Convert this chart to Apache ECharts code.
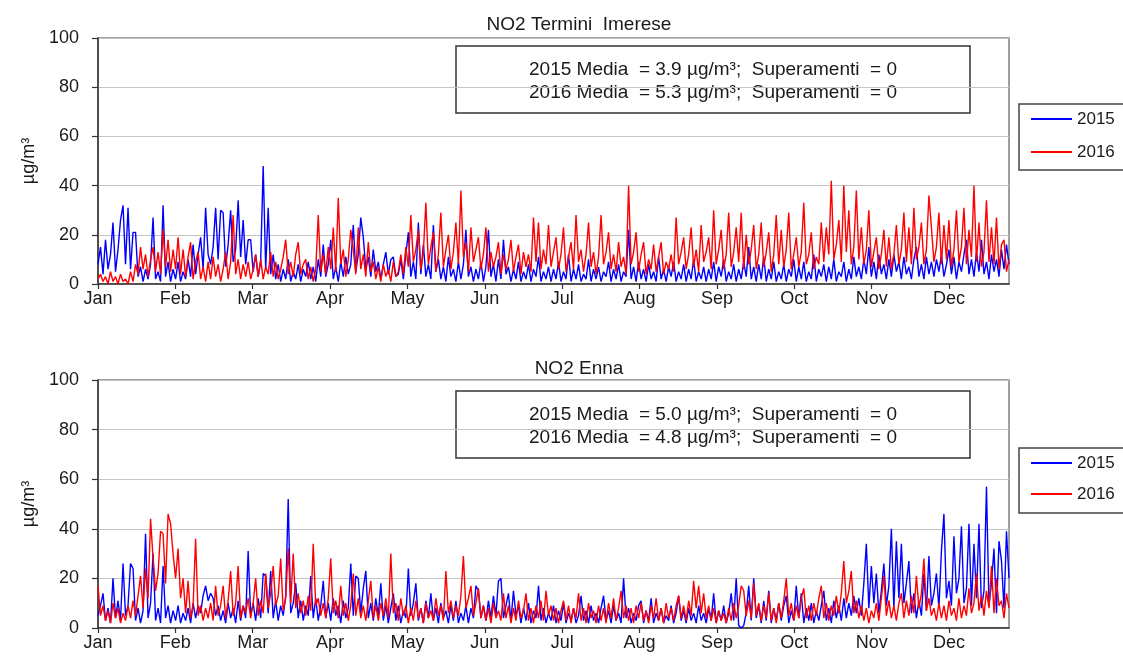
<!DOCTYPE html>
<html>
<head>
<meta charset="utf-8">
<script src="https://cdn.jsdelivr.net/npm/echarts@6/dist/echarts.min.js"></script>
<style>
html,body{margin:0;padding:0;background:#fff;}
#chart{width:1123px;height:663px;}
</style>
</head>
<body>
<div id="chart"></div>
<script>
// ---- data (daily readings, 365 per series) ----
const months = ['Jan','Feb','Mar','Apr','May','Jun','Jul','Aug','Sep','Oct','Nov','Dec'];
const yTicks = [0, 20, 40, 60, 80, 100];
const seriesNames = ['2015', '2016'];
const titles = ['NO2 Termini  Imerese', 'NO2 Enna'];
const notesTermini = ['2015 Media  = 3.9 µg/m³;  Superamenti  = 0', '2016 Media  = 5.3 µg/m³;  Superamenti  = 0'];
const notesEnna = ['2015 Media  = 5.0 µg/m³;  Superamenti  = 0', '2016 Media  = 4.8 µg/m³;  Superamenti  = 0'];
const unitLabel = 'µg/m³';

const termini2015 = [
 8,15,4,18,6,12,25,5,14,26,32,8,31,6,21,21,3,7,1,6,2,8,27,2,5,1,32,3,9,1,6,
 2,9,1,5,2,10,3,16,4,12,19,6,31,12,8,15,31,10,30,29,7,16,30,9,14,34,11,26,
 8,18,18,5,12,3,9,48,6,31,4,12,2,8,1,6,2,10,1,5,2,8,1,6,3,9,2,7,1,10,3,
 16,3,8,18,2,7,1,9,3,11,4,8,24,5,12,27,19,6,11,3,14,5,9,2,8,13,4,10,11,3,
 4,10,2,12,21,3,9,2,25,4,16,3,8,2,24,5,10,2,7,1,11,3,6,1,9,2,8,22,3,7,1,
 6,2,9,1,7,22,3,8,1,10,2,18,4,7,1,6,2,9,1,5,2,8,1,6,3,11,1,5,2,7,
 1,6,2,9,1,5,2,12,1,6,2,8,1,4,2,10,1,6,2,7,1,5,3,9,1,6,2,8,1,5,3,
 22,2,7,1,9,2,6,1,8,2,5,1,11,2,6,1,7,3,9,1,5,2,8,1,6,2,10,1,5,2,7,
 1,6,2,9,1,7,3,10,1,5,2,8,1,6,2,9,3,15,2,7,1,8,2,11,1,6,2,9,1,5,
 2,8,1,6,3,10,1,7,2,9,1,5,2,12,1,6,3,8,1,7,2,10,1,5,3,9,1,6,2,11,3,
 7,2,10,4,15,3,9,2,12,4,8,2,10,3,12,5,9,2,11,4,7,2,10,15,3,8,2,11,4,9,
 3,10,5,12,3,8,14,4,11,2,9,5,12,18,4,10,3,13,5,18,4,9,2,12,5,10,3,14,6,16,8
];
const termini2016 = [
 2,4,1,3,0,5,1,3,0,4,1,2,0,5,1,8,4,15,6,12,3,10,15,5,13,4,22,7,18,5,14,
 6,19,4,14,3,11,17,2,9,13,2,7,1,9,2,11,3,8,1,6,13,2,9,28,4,10,2,8,
 3,9,2,6,12,3,10,2,7,4,13,3,9,2,6,11,18,4,9,3,12,17,4,8,10,2,7,1,6,28,5,
 12,4,15,6,23,5,35,8,14,3,10,22,14,4,23,6,12,3,17,5,9,2,7,1,8,3,6,1,9,3,
 5,12,4,15,7,28,9,14,22,6,13,33,8,15,21,5,12,29,7,14,20,6,13,25,8,38,11,17,5,23,9,
 14,19,6,12,23,5,13,7,11,17,4,12,6,10,18,5,11,16,4,13,7,12,5,27,9,25,6,14,8,24,
 7,13,19,6,12,23,5,11,17,6,28,9,14,5,12,25,7,13,4,11,28,8,13,21,6,12,5,17,7,11,4,
 40,8,13,21,5,12,17,4,10,6,16,5,11,17,4,9,6,12,5,27,8,13,19,6,12,23,7,14,5,24,9,
 13,19,6,30,8,14,22,6,12,29,7,13,23,9,29,6,20,8,14,24,6,12,25,7,13,21,5,12,28,8,
 22,7,14,29,6,12,19,7,13,33,8,12,21,6,11,8,25,9,23,12,42,10,16,26,9,40,13,30,8,15,38,
 10,23,8,14,30,7,13,19,6,12,22,7,19,6,12,24,8,14,29,9,23,8,31,10,15,25,8,14,36,23,
 9,15,29,8,24,10,26,7,14,30,9,15,31,8,22,11,40,9,25,7,13,34,9,23,8,27,6,16,18,5,10
];
const enna2015 = [
 5,9,14,3,8,2,20,4,11,3,26,5,9,26,24,3,8,2,7,38,4,10,30,3,8,2,25,4,9,2,7,
 3,9,2,6,3,8,2,10,4,9,6,13,17,11,14,12,5,9,3,7,2,10,4,8,2,11,3,9,
 4,31,5,10,3,12,4,22,21,6,23,4,11,3,9,5,13,52,6,10,18,4,11,3,9,5,21,4,12,3,9,
 19,4,10,3,12,5,9,2,11,4,8,26,5,21,20,6,16,23,4,10,3,12,5,18,3,9,2,8,14,3,
 9,2,7,4,24,5,10,18,3,8,2,11,4,14,3,8,2,10,4,7,2,9,3,11,2,6,3,9,2,8,4,
 17,15,4,9,3,11,4,13,5,19,20,4,9,14,3,15,5,9,2,8,3,10,2,7,4,17,3,8,2,6,
 3,9,2,7,3,10,2,6,3,8,2,5,13,3,7,2,9,3,6,2,8,13,3,7,2,9,3,6,2,20,4,
 8,2,6,3,9,11,2,7,3,12,2,6,3,8,2,5,3,9,2,6,13,3,7,2,8,3,6,2,9,3,6,
 2,8,3,14,2,7,3,9,2,6,14,3,20,1,0,1,6,17,3,20,4,9,2,11,3,15,2,8,3,10,
 3,9,13,2,7,3,17,4,14,2,8,3,10,2,7,3,9,15,3,8,2,11,4,9,3,12,4,10,5,13,6,
 12,5,18,34,8,25,10,22,6,15,26,9,17,40,8,35,12,34,10,18,27,6,14,4,11,5,22,7,29,9,
 14,22,8,31,46,12,19,9,37,14,20,41,10,16,42,9,34,12,42,8,15,57,9,18,32,6,35,27,8,39,20
];
const enna2016 = [
 17,5,9,3,7,2,10,4,8,2,6,3,9,4,11,5,13,21,8,24,12,44,28,15,22,39,38,18,46,42,30,
 20,32,12,20,6,19,4,9,36,5,9,3,8,4,10,3,17,5,9,17,4,11,23,5,10,25,4,9,
 6,12,4,10,20,5,11,6,22,8,14,25,9,13,28,7,12,32,10,30,8,14,6,11,5,13,7,34,9,12,5,
 10,4,12,28,6,11,4,17,5,10,3,9,22,5,12,4,9,3,11,19,4,9,3,10,5,12,4,30,6,10,
 3,12,5,9,2,8,3,11,4,8,2,10,4,7,3,12,5,9,3,23,6,11,4,9,5,13,29,8,12,17,5,
 10,16,4,9,3,8,2,10,4,7,3,14,4,9,2,8,3,11,4,7,14,3,8,2,9,4,11,3,15,5,
 9,3,8,2,7,11,3,9,2,8,4,14,3,8,2,10,4,7,2,9,3,8,2,10,4,12,3,8,15,4,9,
 3,8,2,9,4,10,3,7,2,9,4,12,3,8,2,10,4,8,3,9,13,4,9,3,11,5,19,8,17,6,14,
 4,9,3,8,2,7,3,6,2,8,3,10,4,9,17,15,5,11,4,18,5,10,3,9,4,14,3,8,2,10,
 4,11,20,5,10,3,9,4,12,16,4,9,3,10,5,12,17,4,10,3,9,5,13,6,14,27,10,15,23,6,11,
 4,9,3,8,2,7,4,10,3,12,21,5,11,4,9,3,10,14,4,11,5,13,6,21,8,14,28,7,12,5,
 8,3,10,4,9,3,11,5,8,3,12,4,9,5,16,6,10,22,7,13,5,15,8,25,6,20,9,11,4,14,8
];

// ---- chart ----
const FONT = '"Liberation Sans", Arial, sans-serif';
const TXT = '#1a1a1a';
const DAYS = 365;
const STEP = 31;
const monthTicks = months.map((m, i) => i * STEP);

function toPoints(arr) {
  const n = arr.length;
  return arr.map((v, i) => [i * DAYS / (n - 1), v]);
}

const grids = [
  { left: 98, right: 114, top: 38, height: 246 },
  { left: 98, right: 114, top: 380, height: 248 }
];

function xAxisFor(idx) {
  return {
    type: 'value', gridIndex: idx, min: 0, max: DAYS, interval: STEP,
    axisLine: { show: true, lineStyle: { color: '#333', width: 1.5 } },
    axisTick: { show: true, length: 5, inside: false, customValues: monthTicks, lineStyle: { color: '#333', width: 1.2 } },
    axisLabel: {
      customValues: monthTicks,
      formatter: v => months[Math.round(v / STEP)] || '',
      color: TXT, fontFamily: FONT, fontSize: 18, margin: 6
    },
    splitLine: { show: false }
  };
}
function yAxisFor(idx) {
  return {
    type: 'value', gridIndex: idx, min: yTicks[0], max: yTicks[yTicks.length - 1], interval: yTicks[1] - yTicks[0],
    name: unitLabel, nameLocation: 'middle', nameRotate: 90, nameGap: 56,
    nameTextStyle: { color: TXT, fontFamily: FONT, fontSize: 18 },
    axisLine: { show: true, lineStyle: { color: '#333', width: 1.5 } },
    axisTick: { show: true, length: 6, lineStyle: { color: '#333', width: 1.2 } },
    axisLabel: { color: TXT, fontFamily: FONT, fontSize: 18, margin: 19 },
    splitLine: { show: true, lineStyle: { color: '#c4c4c4', width: 1.2 } }
  };
}
function lineSeries(name, arr, color, idx) {
  return {
    name: name, type: 'line', xAxisIndex: idx, yAxisIndex: idx,
    data: toPoints(arr), showSymbol: false, symbol: 'none', sampling: null,
    lineStyle: { color: color, width: 1.4 }, itemStyle: { color: color },
    silent: true, animation: false
  };
}
function legendFor(top, gap, pad) {
  return {
    data: seriesNames, orient: 'vertical', left: 1019, top: top,
    itemWidth: 41, itemHeight: 2, itemGap: gap, icon: 'rect',
    padding: pad, borderColor: '#444', borderWidth: 1.5, backgroundColor: '#fff',
    selectedMode: false,
    textStyle: { color: TXT, fontFamily: FONT, fontSize: 17, lineHeight: 20 }
  };
}
function noteBox(y, lines) {
  return {
    type: 'group', z: 100,
    children: [
      { type: 'rect', shape: { x: 456, y: y, width: 514, height: 67 },
        style: { fill: '#fff', stroke: '#333', lineWidth: 1.5 } },
      { type: 'text', style: { text: lines[0], x: 713, y: y + 24, fontFamily: FONT, fontSize: 19, fill: TXT,
        textAlign: 'center', align: 'center', verticalAlign: 'middle', textVerticalAlign: 'middle' } },
      { type: 'text', style: { text: lines[1], x: 713, y: y + 47, fontFamily: FONT, fontSize: 19, fill: TXT,
        textAlign: 'center', align: 'center', verticalAlign: 'middle', textVerticalAlign: 'middle' } }
    ]
  };
}

const option = {
  backgroundColor: '#fff',
  animation: false,
  title: [
    { text: titles[0], left: 574, top: 10, textAlign: 'center',
      textStyle: { color: TXT, fontFamily: FONT, fontSize: 19, fontWeight: 'normal' } },
    { text: titles[1], left: 574, top: 354, textAlign: 'center',
      textStyle: { color: TXT, fontFamily: FONT, fontSize: 19, fontWeight: 'normal' } }
  ],
  grid: grids.map(g => Object.assign({ show: true, borderColor: '#808080', borderWidth: 1.5, backgroundColor: 'transparent' }, g)),
  xAxis: [xAxisFor(0), xAxisFor(1)],
  yAxis: [yAxisFor(0), yAxisFor(1)],
  legend: [
    legendFor(104, 13, [5, 10, 8, 12]),
    legendFor(448, 11, [5, 10, 9, 12])
  ],
  series: [
    lineSeries(seriesNames[0], termini2015, '#0000ff', 0),
    lineSeries(seriesNames[1], termini2016, '#ff0000', 0),
    lineSeries(seriesNames[0], enna2015, '#0000ff', 1),
    lineSeries(seriesNames[1], enna2016, '#ff0000', 1)
  ],
  graphic: [noteBox(46, notesTermini), noteBox(391, notesEnna)]
};

const chart = echarts.init(document.getElementById('chart'), null, { renderer: 'canvas' });
chart.setOption(option);
</script>
</body>
</html>
